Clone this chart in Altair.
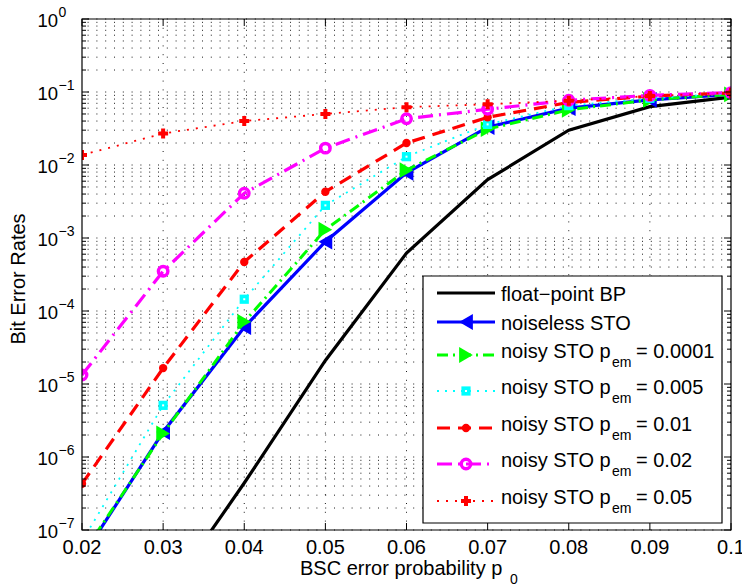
import altair as alt
import pandas as pd

# ---------------- data ----------------
x_vals = [0.02, 0.03, 0.04, 0.05, 0.06, 0.07, 0.08, 0.09, 0.10]
ber_float_bp = [1e-10, 1.1e-8, 4.4e-7, 2.1e-5, 6.2e-4, 6.3e-3, 0.030, 0.063, 0.085]
ber_noiseless = [4.2e-8, 2.2e-6, 6.0e-5, 8.9e-4, 7.8e-3, 0.033, 0.060, 0.078, 0.093]
ber_pem_0001 = [4.6e-8, 2.1e-6, 7.1e-5, 1.3e-3, 8.5e-3, 0.031, 0.057, 0.078, 0.093]
ber_pem_005 = [7.0e-8, 5.1e-6, 1.45e-4, 2.8e-3, 0.013, 0.036, 0.065, 0.082, 0.095]
ber_pem_01 = [4.3e-7, 1.65e-5, 4.7e-4, 4.3e-3, 0.020, 0.045, 0.072, 0.088, 0.097]
ber_pem_02 = [1.33e-5, 3.5e-4, 4.1e-3, 0.017, 0.043, 0.058, 0.077, 0.090, 0.098]
ber_pem_05 = [0.0137, 0.027, 0.040, 0.050, 0.062, 0.068, 0.076, 0.088, 0.098]

x_ticks = [0.02, 0.03, 0.04, 0.05, 0.06, 0.07, 0.08, 0.09, 0.10]
x_tick_labels = ["0.02", "0.03", "0.04", "0.05", "0.06", "0.07", "0.08", "0.09", "0.1"]
y_decades = [1e-7, 1e-6, 1e-5, 1e-4, 1e-3, 1e-2, 1e-1, 1.0]
y_exponents = ["\u22127", "\u22126", "\u22125", "\u22124", "\u22123", "\u22122", "\u22121", "0"]
y_minor_mult = [2, 3, 4, 5, 6, 7, 8, 9]

legend_main = ["float\u2212point BP", "noiseless STO", "noisy STO p", "noisy STO p",
               "noisy STO p", "noisy STO p", "noisy STO p"]
legend_pem = ["", "", "= 0.0001", "= 0.005", "= 0.01", "= 0.02", "= 0.05"]

x_title = "BSC error probability p"
x_title_sub = "0"
y_title = "Bit Error Rates"

series_values = [ber_float_bp, ber_noiseless, ber_pem_0001, ber_pem_005,
                 ber_pem_01, ber_pem_02, ber_pem_05]

# ---------------- styles ----------------
FONT = "Liberation Sans"
W, H = 649, 511
styles = [
    dict(color="#000000", width=3.2, dash=None, shape=None),
    dict(color="#0000ff", width=3.2, dash=None, shape="triangle-left", size=250, filled=True),
    dict(color="#00ff00", width=3.0, dash=[11, 5, 2, 5], shape="triangle-right", size=250, filled=True),
    dict(color="#00ffff", width=1.8, dash=[2, 6], shape="square", size=85, filled=True),
    dict(color="#ff0000", width=3.2, dash=[13, 8], shape="circle", size=70, filled=True),
    dict(color="#ff00ff", width=3.2, dash=[15, 6, 2, 6], shape="circle", size=90, filled=False),
    dict(color="#ff0000", width=1.8, dash=[2, 7], shape="cross", size=100, filled=True),
]

xs = alt.Scale(domain=[0.02, 0.1], nice=False, zero=False)
ys = alt.Scale(type="log", domain=[1e-7, 1], nice=False)
dummy = pd.DataFrame({"a": [0]})

layers = []

# grid
grid_y = []
for d in y_decades[:-1]:
    grid_y.append(d)
    for m in y_minor_mult:
        grid_y.append(d * m)
grid_y.append(1.0)
layers.append(
    alt.Chart(pd.DataFrame({"v": grid_y}))
    .mark_rule(color="#000000", strokeWidth=0.9, strokeDash=[1, 7.8])
    .encode(y=alt.Y("v:Q", scale=ys, axis=None))
)
layers.append(
    alt.Chart(pd.DataFrame({"v": x_ticks[1:-1]}))
    .mark_rule(color="#000000", strokeWidth=0.9, strokeDash=[1, 7.8])
    .encode(x=alt.X("v:Q", scale=xs, axis=None))
)

# series
for vals, st in zip(series_values, styles):
    df = pd.DataFrame({"x": x_vals, "y": vals})
    enc = dict(x=alt.X("x:Q", scale=xs, axis=None), y=alt.Y("y:Q", scale=ys, axis=None))
    lkw = dict(clip=True, color=st["color"], strokeWidth=st["width"])
    if st["dash"]:
        lkw["strokeDash"] = st["dash"]
    layers.append(alt.Chart(df).mark_line(**lkw).encode(**enc))
    if st["shape"]:
        pkw = dict(clip=True, shape=st["shape"], size=st["size"], color=st["color"], opacity=1)
        if st["filled"]:
            pkw["filled"] = True
        else:
            pkw["filled"] = False
            pkw["strokeWidth"] = 3.4
        layers.append(alt.Chart(df).mark_point(**pkw).encode(**enc))
        if st["shape"] == "square":
            layers.append(alt.Chart(df).mark_point(clip=True, shape="square", size=4, filled=True,
                                                   color="white", opacity=1).encode(**enc))

# ticks
maj_y = pd.DataFrame({"v": y_decades})
min_y = pd.DataFrame({"v": [v for v in grid_y if v not in y_decades]})
for dfv, L in [(maj_y, 7), (min_y, 4)]:
    layers.append(alt.Chart(dfv).mark_rule(color="black", strokeWidth=1).encode(
        y=alt.Y("v:Q", scale=ys, axis=None), x=alt.value(0), x2=alt.value(L)))
    layers.append(alt.Chart(dfv).mark_rule(color="black", strokeWidth=1).encode(
        y=alt.Y("v:Q", scale=ys, axis=None), x=alt.value(W), x2=alt.value(W - L)))
xt = pd.DataFrame({"v": x_ticks, "lab": x_tick_labels})
layers.append(alt.Chart(xt).mark_rule(color="black", strokeWidth=1).encode(
    x=alt.X("v:Q", scale=xs, axis=None), y=alt.value(H), y2=alt.value(H - 7)))
layers.append(alt.Chart(xt).mark_rule(color="black", strokeWidth=1).encode(
    x=alt.X("v:Q", scale=xs, axis=None), y=alt.value(0), y2=alt.value(7)))

# frame
layers.append(alt.Chart(dummy).mark_rect(fill="transparent", stroke="black", strokeWidth=1.2).encode(
    x=alt.value(0), x2=alt.value(W), y=alt.value(0), y2=alt.value(H)))

# tick labels
layers.append(alt.Chart(xt).mark_text(font=FONT, fontSize=20, align="center", baseline="alphabetic",
                                      color="black").encode(
    x=alt.X("v:Q", scale=xs, axis=None), y=alt.value(H + 24), text="lab:N"))
yl = pd.DataFrame({"v": y_decades, "e": y_exponents})
layers.append(alt.Chart(yl).mark_text(font=FONT, fontSize=18.5, align="left", baseline="alphabetic",
                                      dy=7.5, color="black").encode(
    y=alt.Y("v:Q", scale=ys, axis=None), x=alt.value(-44.5), text=alt.value("10")))
layers.append(alt.Chart(yl).mark_text(font=FONT, fontSize=14, align="left", baseline="alphabetic",
                                      dy=-2.5, color="black").encode(
    y=alt.Y("v:Q", scale=ys, axis=None), x=alt.value(-23.5), text="e:N"))

# axis titles
layers.append(alt.Chart(dummy).mark_text(font=FONT, fontSize=20, align="left", baseline="alphabetic",
                                         color="black").encode(
    x=alt.value(218), y=alt.value(556), text=alt.value(x_title)))
layers.append(alt.Chart(dummy).mark_text(font=FONT, fontSize=14, align="left", baseline="alphabetic",
                                         color="black").encode(
    x=alt.value(428), y=alt.value(565), text=alt.value(x_title_sub)))
layers.append(alt.Chart(dummy).mark_text(font=FONT, fontSize=20, align="center", baseline="alphabetic",
                                         angle=270, color="black").encode(
    x=alt.value(-57), y=alt.value(260), text=alt.value(y_title)))

# legend
LX0, LX1, LY0, LY1 = 341, 640, 257, 504
layers.append(alt.Chart(dummy).mark_rect(fill="white", stroke="black", strokeWidth=1.2).encode(
    x=alt.value(LX0), x2=alt.value(LX1), y=alt.value(LY0), y2=alt.value(LY1)))
row_y = [274, 303, 336, 372, 409, 445, 482]
for i, st in enumerate(styles):
    yy = row_y[i]
    rkw = dict(color=st["color"], strokeWidth=st["width"])
    if st["dash"]:
        rkw["strokeDash"] = st["dash"]
    layers.append(alt.Chart(dummy).mark_rule(**rkw).encode(
        x=alt.value(355), x2=alt.value(413), y=alt.value(yy)))
    if st["shape"]:
        pkw = dict(shape=st["shape"], size=st["size"], color=st["color"], opacity=1,
                   filled=bool(st["filled"]))
        if not st["filled"]:
            pkw["strokeWidth"] = 3.4
        layers.append(alt.Chart(dummy).mark_point(**pkw).encode(x=alt.value(384), y=alt.value(yy)))
        if st["shape"] == "square":
            layers.append(alt.Chart(dummy).mark_point(shape="square", size=4, filled=True, color="white",
                                                      opacity=1).encode(x=alt.value(384), y=alt.value(yy)))
    has_sub = legend_pem[i] != ""
    base_dy = 3 if has_sub else 8
    layers.append(alt.Chart(dummy).mark_text(font=FONT, fontSize=20, align="left", baseline="alphabetic",
                                             color="black").encode(
        x=alt.value(419), y=alt.value(yy + base_dy), text=alt.value(legend_main[i])))
    if has_sub:
        layers.append(alt.Chart(dummy).mark_text(font=FONT, fontSize=14, align="left",
                                                 baseline="alphabetic", color="black").encode(
            x=alt.value(530), y=alt.value(yy + 12), text=alt.value("em")))
        layers.append(alt.Chart(dummy).mark_text(font=FONT, fontSize=20, align="left",
                                                 baseline="alphabetic", color="black").encode(
            x=alt.value(554), y=alt.value(yy + base_dy), text=alt.value(legend_pem[i])))

chart = alt.layer(*layers).properties(
    width=W, height=H,
    padding={"left": 82, "top": 19, "right": 11, "bottom": 55},
    autosize=alt.AutoSizeParams(type="none"),
    background="white",
).configure_view(stroke=None)

chart.save("out.html", embed_options={"renderer": "svg", "actions": False})
